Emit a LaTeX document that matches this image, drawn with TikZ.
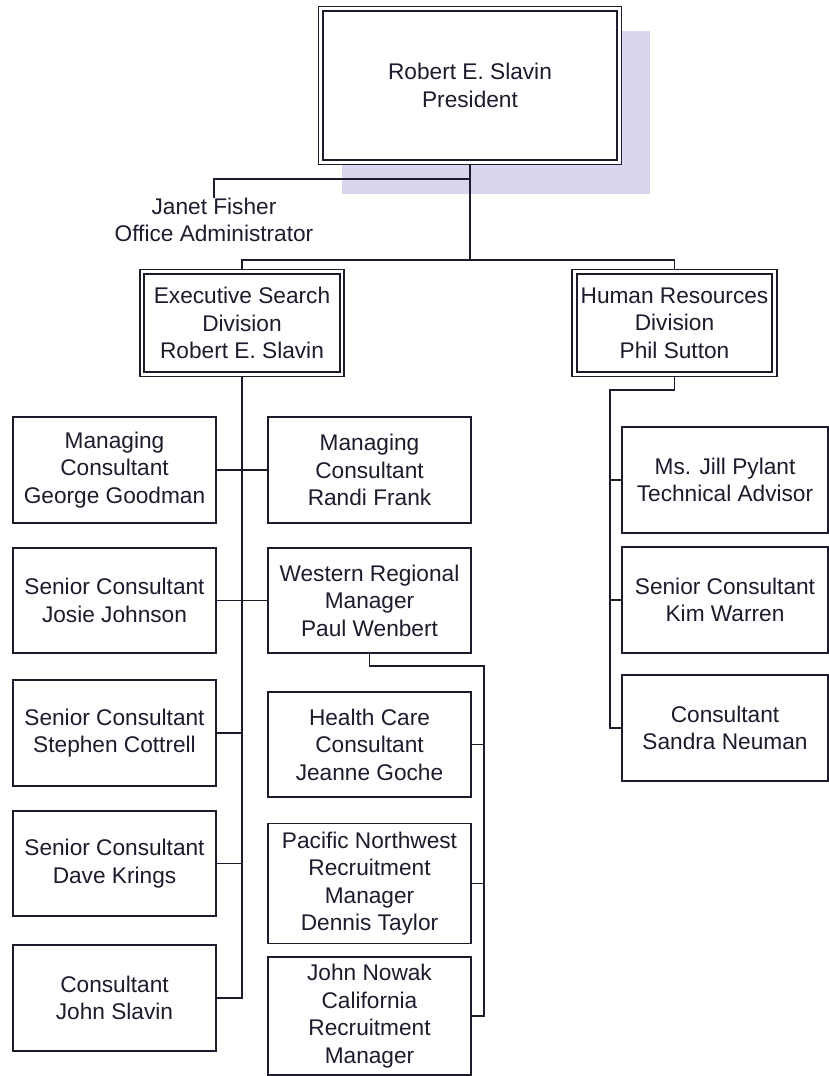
\documentclass[tikz,border=0pt]{standalone}
\usepackage{fontspec}
\setmainfont{Liberation Sans}
\usetikzlibrary{backgrounds}
\definecolor{ink}{RGB}{28,28,44}
\definecolor{shadowblue}{RGB}{218,214,240}
\newcommand{\orgfont}{\fontsize{17}{20.6}\selectfont}

\tikzset{
    postbox/.style={draw=ink, line width=1.3pt, fill=white, text=ink, align=center, font=\orgfont, inner sep=0pt, minimum width=152pt, minimum height=79pt},
    twinbox/.style={postbox, line width=1.2pt, double, double distance=2.2pt},
    wire/.style={draw=ink, line width=1.3pt}
}

\begin{document}
\begin{tikzpicture}[x=0.75pt, y=-0.75pt]
    \useasboundingbox (0,0) rectangle (829,1076);
    \path node[twinbox, minimum width=224pt, minimum height=115pt] (pres) at (470,85.5) {Robert E. Slavin\\President}
        node[font=\orgfont, text=ink, align=center, inner sep=0pt] (janet) at (214,220) {Janet Fisher\\Office Administrator}
        node[twinbox, minimum width=150pt, minimum height=77pt] (exec) at (242,323) {Executive Search\\Division\\Robert E. Slavin}
        node[twinbox, minimum width=150pt, minimum height=77pt] (hr) at (674.5,323) {Human Resources\\Division\\Phil Sutton}
        node[postbox] (george) at (114.5,470) {Managing\\Consultant\\George Goodman}
        node[postbox] (josie) at (114.5,600.5) {Senior Consultant\\Josie Johnson}
        node[postbox] (stephen) at (114.5,733) {Senior Consultant\\Stephen Cottrell}
        node[postbox] (dave) at (114.5,863.5) {Senior Consultant\\Dave Krings}
        node[postbox] (jslavin) at (114.5,998) {Consultant\\John Slavin}
        node[postbox] (randi) at (369.5,470) {Managing\\Consultant\\Randi Frank}
        node[postbox] (western) at (369.5,600.5) {Western Regional\\Manager\\Paul Wenbert}
        node[postbox] (health) at (369.5,744.5) {Health Care\\Consultant\\Jeanne Goche}
        node[postbox, minimum height=90pt] (pacific) at (369.5,883.5) {Pacific Northwest\\Recruitment\\Manager\\Dennis Taylor}
        node[postbox, minimum height=88pt] (nowak) at (369.5,1016) {John Nowak\\California\\Recruitment\\Manager}
        node[postbox, minimum width=154pt] (jill) at (725,480) {Ms. Jill Pylant\\Technical Advisor}
        node[postbox, minimum width=154pt] (kim) at (725,600) {Senior Consultant\\Kim Warren}
        node[postbox, minimum width=154pt] (sandra) at (725,728) {Consultant\\Sandra Neuman};
    \coordinate (jbar) at (470,179);
    \coordinate (divbar) at (470,260);
    \coordinate (wbus) at (484,666);
    \coordinate (hrbus) at (610,390);
    \begin{scope}[on background layer]
        \fill[shadowblue] ([shift={(22,23)}]pres.north west) rectangle ([shift={(30,31)}]pres.south east);
        \draw[wire] (pres.south) -- (divbar);
        \draw[wire] (jbar) -| (janet.north);
        \draw[wire] (exec.north) |- (divbar) -| (hr.north);
        \draw[wire] (exec.south) |- (jslavin.east);
        \draw[wire] (george.east) -- (randi.west);
        \draw[wire] (josie.east) -- (western.west);
        \draw[wire] (stephen.east) -- (stephen.east -| exec.south);
        \draw[wire] (dave.east) -- (dave.east -| exec.south);
        \draw[wire] (western.south) |- (wbus) |- (nowak.east);
        \draw[wire] (health.east) -- (health.east -| wbus);
        \draw[wire] (pacific.east) -- (pacific.east -| wbus);
        \draw[wire] (hr.south) |- (hrbus) |- (sandra.west);
        \draw[wire] (jill.west) -- (jill.west -| hrbus);
        \draw[wire] (kim.west) -- (kim.west -| hrbus);
    \end{scope}
\end{tikzpicture}
\end{document}
